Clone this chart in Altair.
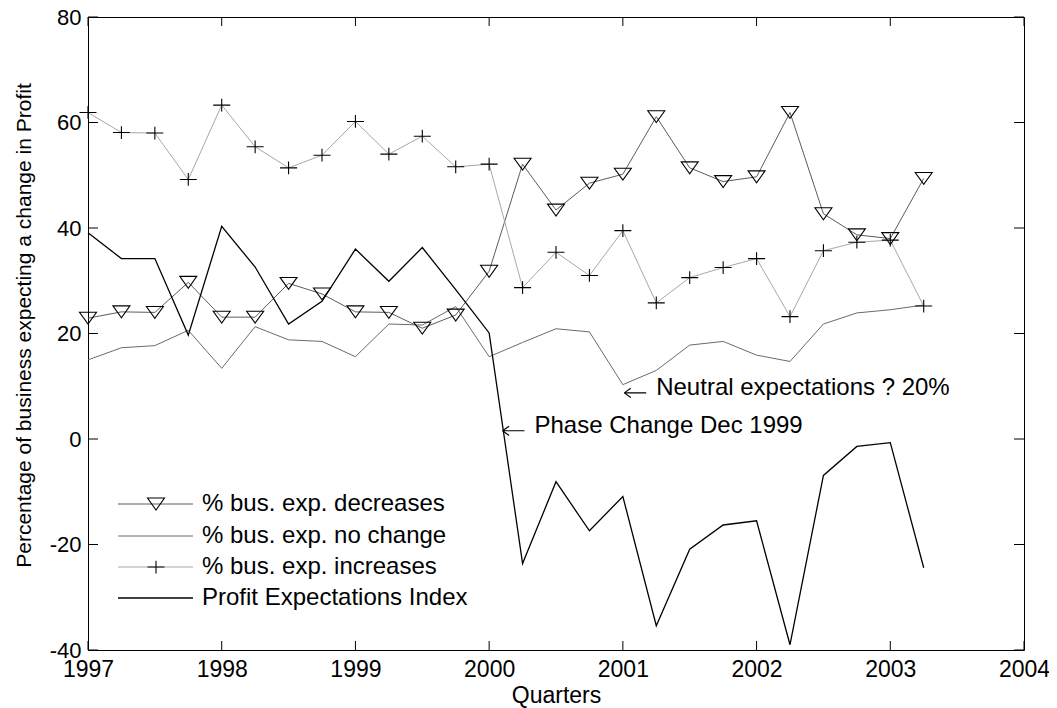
import altair as alt
import pandas as pd

# ---- data ----
quarters = [1997.0, 1997.25, 1997.5, 1997.75, 1998.0, 1998.25, 1998.5, 1998.75,
            1999.0, 1999.25, 1999.5, 1999.75, 2000.0, 2000.25, 2000.5, 2000.75,
            2001.0, 2001.25, 2001.5, 2001.75, 2002.0, 2002.25, 2002.5, 2002.75,
            2003.0, 2003.25]
decreases = [22.9, 24.1, 24.0, 29.7, 23.1, 23.1, 29.5, 27.5, 24.1, 24.0, 21.0, 23.5,
             31.8, 52.1, 43.4, 48.5, 50.2, 61.1, 51.4, 48.8, 49.7, 61.9, 42.7, 38.7,
             38.0, 49.4]
no_change = [15.0, 17.3, 17.7, 20.6, 13.4, 21.3, 18.8, 18.5, 15.6, 21.8, 21.6, 25.1,
             15.6, 18.3, 20.9, 20.3, 10.3, 13.0, 17.8, 18.5, 15.9, 14.7, 21.8, 23.9,
             24.5, 25.4]
increases = [61.9, 58.1, 58.0, 49.2, 63.3, 55.4, 51.4, 53.8, 60.2, 54.0, 57.4, 51.6,
             52.1, 28.7, 35.4, 31.0, 39.5, 25.8, 30.6, 32.5, 34.2, 23.2, 35.7, 37.3,
             37.7, 25.2]
profit_index = [39.1, 34.2, 34.2, 19.7, 40.3, 32.6, 21.8, 26.1, 36.0, 29.9, 36.3, 28.3,
                20.1, -23.6, -8.1, -17.4, -10.9, -35.4, -20.9, -16.3, -15.5, -39.0, -6.9,
                -1.4, -0.7, -24.4]

series_names = ["% bus. exp. decreases", "% bus. exp. no change",
                "% bus. exp. increases", "Profit Expectations Index"]

x_ticks = [1997, 1998, 1999, 2000, 2001, 2002, 2003, 2004]
y_ticks = [-40, -20, 0, 20, 40, 60, 80]

ann_text = ["Phase Change Dec 1999", "Neutral expectations ? 20%"]
ann_x = [2000.10, 2001.01]
ann_y = [2.5, 9.7]

# ---- layout / style ----
W, H = 936, 633
FONT = "Liberation Sans"
TRI = "M-1,-0.7L1,-0.7L0,0.7Z"
PLUS = "M-1,0L1,0M0,-0.75L0,0.75"
ARROW = "M-1,0L1,0M-1,0L-0.4,-0.42M-1,0L-0.4,0.42"

df = pd.DataFrame({"q": quarters, "dec": decreases, "noc": no_change,
                   "inc": increases, "pei": profit_index})

xs = alt.Scale(domain=[1997, 2004], nice=False, zero=False)
ys = alt.Scale(domain=[-40, 80], nice=False, zero=False)

x_axis = alt.Axis(values=x_ticks, labelExpr="toString(datum.value)",
                  title="Quarters", grid=False, ticks=False, domain=False,
                  labelFlush=False, labelOverlap=False,
                  labelFontSize=23, titleFontSize=23, labelPadding=8,
                  titleFontWeight="normal", titleBaseline="alphabetic",
                  titleY=52, labelFont=FONT, titleFont=FONT, labelColor="black",
                  titleColor="black")
y_axis = alt.Axis(values=y_ticks, labelExpr="toString(datum.value)",
                  title="Percentage of business expecting a change in Profit",
                  grid=False, ticks=False, domain=False,
                  labelFlush=False, labelOverlap=False,
                  labelFontSize=22, titleFontSize=21, labelPadding=7,
                  titleFontWeight="normal", labelFont=FONT, titleFont=FONT,
                  labelColor="black", titleColor="black",
                  titleX=-54, titleY=308)


def X(field):
    return alt.X(f"{field}:Q", scale=xs, axis=x_axis)


def Y(field):
    return alt.Y(f"{field}:Q", scale=ys, axis=y_axis)


base = alt.Chart(df)

dec_line = base.mark_line(color="#5c5c5c", strokeWidth=1).encode(x=X("q"), y=Y("dec"))
dec_pts = base.mark_point(shape=TRI, size=289, filled=False, stroke="black",
                          strokeWidth=1.1, opacity=1).encode(x=X("q"), y=Y("dec"))
noc_line = base.mark_line(color="#6a6a6a", strokeWidth=1).encode(x=X("q"), y=Y("noc"))
inc_line = base.mark_line(color="#a8a8a8", strokeWidth=1).encode(x=X("q"), y=Y("inc"))
inc_pts = base.mark_point(shape=PLUS, size=289, filled=False, stroke="black",
                          strokeWidth=1.1, opacity=1).encode(x=X("q"), y=Y("inc"))
pei_line = base.mark_line(color="black", strokeWidth=1.3).encode(x=X("q"), y=Y("pei"))

# inward ticks on all four sides (box style)
xt = pd.DataFrame({"t": x_ticks})
yt = pd.DataFrame({"t": y_ticks})
tick_layers = [
    alt.Chart(xt).mark_rule(color="black", strokeWidth=1).encode(
        x=X("t"), y=alt.value(H), y2=alt.value(H - 9)),
    alt.Chart(xt).mark_rule(color="black", strokeWidth=1).encode(
        x=X("t"), y=alt.value(0), y2=alt.value(9)),
    alt.Chart(yt).mark_rule(color="black", strokeWidth=1).encode(
        y=Y("t"), x=alt.value(0), x2=alt.value(10)),
    alt.Chart(yt).mark_rule(color="black", strokeWidth=1).encode(
        y=Y("t"), x=alt.value(W), x2=alt.value(W - 10)),
]

# annotations (anchored in data coordinates): arrow + text
ann_df = pd.DataFrame({"x": ann_x, "y": ann_y, "t": ann_text})
ann_arrow = alt.Chart(ann_df).mark_point(shape=ARROW, size=484, filled=False,
                                         stroke="black", strokeWidth=1.1, opacity=1,
                                         xOffset=11, yOffset=5).encode(
    x=X("x"), y=Y("y"))
ann = alt.Chart(ann_df).mark_text(align="left", baseline="middle", fontSize=24,
                                  font=FONT, color="black", dx=32).encode(
    x=X("x"), y=Y("y"), text="t:N")

# manual legend (no box)
leg_y = [487, 519, 550, 581]
leg_colors = ["#5c5c5c", "#6a6a6a", "#a8a8a8", "black"]
leg_widths = [1, 1, 1, 1.3]
leg_marks = [TRI, None, PLUS, None]
legend_layers = []
for name, ly, col, sw, shp in zip(series_names, leg_y, leg_colors, leg_widths, leg_marks):
    one = pd.DataFrame({"label": [name]})
    legend_layers.append(alt.Chart(one).mark_rule(color=col, strokeWidth=sw).encode(
        x=alt.value(30), x2=alt.value(105), y=alt.value(ly)))
    if shp:
        legend_layers.append(alt.Chart(one).mark_point(
            shape=shp, size=289, filled=False, stroke="black", strokeWidth=1.1,
            opacity=1).encode(x=alt.value(68), y=alt.value(ly)))
    legend_layers.append(alt.Chart(one).mark_text(
        align="left", baseline="middle", fontSize=24, font=FONT, color="black").encode(
        x=alt.value(114), y=alt.value(ly), text="label:N"))

chart = alt.layer(
    dec_line, noc_line, inc_line, pei_line, dec_pts, inc_pts, ann_arrow, ann,
    *tick_layers, *legend_layers
).properties(
    width=W, height=H,
    padding={"left": 80, "top": 9, "right": 25, "bottom": 58},
    autosize="none",
    background="white",
).configure_view(
    stroke="black", strokeWidth=1
).configure_axis(
    grid=False, domain=False, ticks=False
)

chart.save("out.html", embed_options={"renderer": "svg", "actions": False})
